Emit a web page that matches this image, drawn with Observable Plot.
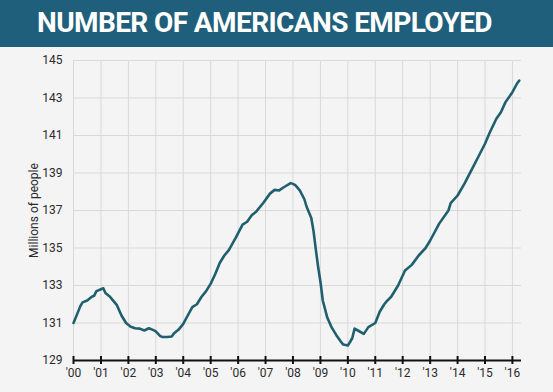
<!DOCTYPE html>
<html>
<head>
<meta charset="utf-8">
<script src="https://cdn.jsdelivr.net/npm/d3@7"></script>
<script src="https://cdn.jsdelivr.net/npm/@observablehq/plot@0.6"></script>
<style>
  html, body { margin: 0; padding: 0; background: #f4f4f4; }
  #wrap { width: 553px; height: 392px; overflow: hidden; background: #f4f4f4; }
  #banner { height: 47px; background: #1f5f7b; color: #fff; font-family: Roboto, "Open Sans", sans-serif;
    font-weight: 700; font-size: 28px; line-height: 46px; text-align: left; padding-left: 37px;
    letter-spacing: -0.6px; white-space: nowrap; box-sizing: border-box; }
  #chart svg { display: block; }
</style>
</head>
<body>
<div id="wrap">
  <div id="banner">NUMBER OF AMERICANS EMPLOYED</div>
  <div id="chart"></div>
</div>
<script>
const title = "NUMBER OF AMERICANS EMPLOYED";
const yLabel = "Millions of people";
const months = [
  "2000-01","2000-02","2000-04","2000-05","2000-07","2000-09","2000-10","2000-11",
  "2001-01","2001-02","2001-03","2001-05","2001-06","2001-08","2001-10","2001-12",
  "2002-02","2002-04","2002-06","2002-08","2002-10","2002-12",
  "2003-01","2003-03","2003-04","2003-06","2003-08","2003-09","2003-11",
  "2004-01","2004-03","2004-05","2004-07","2004-09","2004-11",
  "2005-01","2005-03","2005-05","2005-07","2005-09","2005-12",
  "2006-03","2006-05","2006-07","2006-09","2006-12",
  "2007-03","2007-05","2007-07","2007-09","2007-12",
  "2008-01","2008-02","2008-04","2008-06","2008-07","2008-09","2008-10","2008-11","2008-12",
  "2009-01","2009-02","2009-04","2009-06","2009-08","2009-10","2009-11",
  "2010-01","2010-02","2010-03","2010-04","2010-06","2010-08","2010-10",
  "2011-01","2011-03","2011-05","2011-06","2011-08","2011-11",
  "2012-02","2012-05","2012-08","2012-11",
  "2013-01","2013-03","2013-05","2013-09","2013-10",
  "2014-01","2014-04","2014-07","2014-10",
  "2015-01","2015-03","2015-06","2015-08","2015-10",
  "2016-01","2016-03","2016-04"
];
const employed = [
  131.0,131.3,131.9,132.1,132.2,132.4,132.45,132.7,
  132.8,132.85,132.6,132.4,132.25,131.95,131.4,131.0,
  130.8,130.72,130.7,130.6,130.72,130.62,
  130.55,130.3,130.25,130.25,130.28,130.45,130.65,
  130.95,131.4,131.85,132.0,132.4,132.7,
  133.1,133.6,134.2,134.6,134.9,135.55,
  136.25,136.4,136.75,136.95,137.4,
  137.9,138.1,138.07,138.24,138.46,
  138.42,138.35,138.07,137.6,137.2,136.6,135.9,134.9,134.0,
  133.2,132.2,131.3,130.75,130.35,130.0,129.85,
  129.8,130.0,130.2,130.7,130.56,130.42,130.78,
  131.0,131.6,132.0,132.15,132.4,133.0,
  133.8,134.1,134.6,135.0,
  135.4,135.84,136.3,137.0,137.39,
  137.8,138.42,139.13,139.84,
  140.56,141.12,141.89,142.24,142.78,
  143.31,143.76,143.93
];
const yTicks = [129,131,133,135,137,139,141,143,145];
const yearTicks = d3.range(2000, 2017);

const parse = d3.utcParse("%Y-%m");
const data = months.map((m, i) => ({date: parse(m), value: employed[i]}));
const yearDates = yearTicks.map(y => new Date(Date.UTC(y, 0, 1)));

const plot = Plot.plot({
  width: 553,
  height: 345,
  marginTop: 13,
  marginBottom: 32,
  marginLeft: 73,
  marginRight: 32,
  style: {background: "transparent", fontFamily: "Roboto, sans-serif", fontSize: "12px", color: "#333"},
  x: {type: "utc", domain: [new Date(Date.UTC(2000,0,1)), new Date(Date.UTC(2016,4,1))]},
  y: {domain: [129, 145]},
  marks: [
    Plot.gridX(yearDates, {stroke: "#d9d9d9", strokeOpacity: 1, strokeWidth: 1}),
    Plot.gridY(yTicks, {stroke: "#d9d9d9", strokeOpacity: 1, strokeWidth: 1}),
    Plot.axisY(yTicks, {tickSize: 0, tickPadding: 11, fill: "#2b2b2b", fontSize: 12,
      label: yLabel, labelAnchor: "center", labelArrow: "none", labelOffset: 44}),
    Plot.axisX(yearDates, {tickSize: 0, tickPadding: 8, fill: "#2b2b2b", fontSize: 12,
      tickFormat: d => "'" + d3.utcFormat("%y")(d), label: null}),
    Plot.ruleY([129], {stroke: "#111", strokeWidth: 2}),
    Plot.ruleX(yearDates, {x: d => d, y1: 129, y2: 129, insetTop: -4, insetBottom: -4, stroke: "#111", strokeWidth: 2}),
    Plot.line(data, {x: "date", y: "value", stroke: "#205f6e", strokeWidth: 2.6, curve: "linear"})
  ]
});
document.getElementById("chart").appendChild(plot);
document.getElementById("banner").textContent = title;
</script>
</body>
</html>
